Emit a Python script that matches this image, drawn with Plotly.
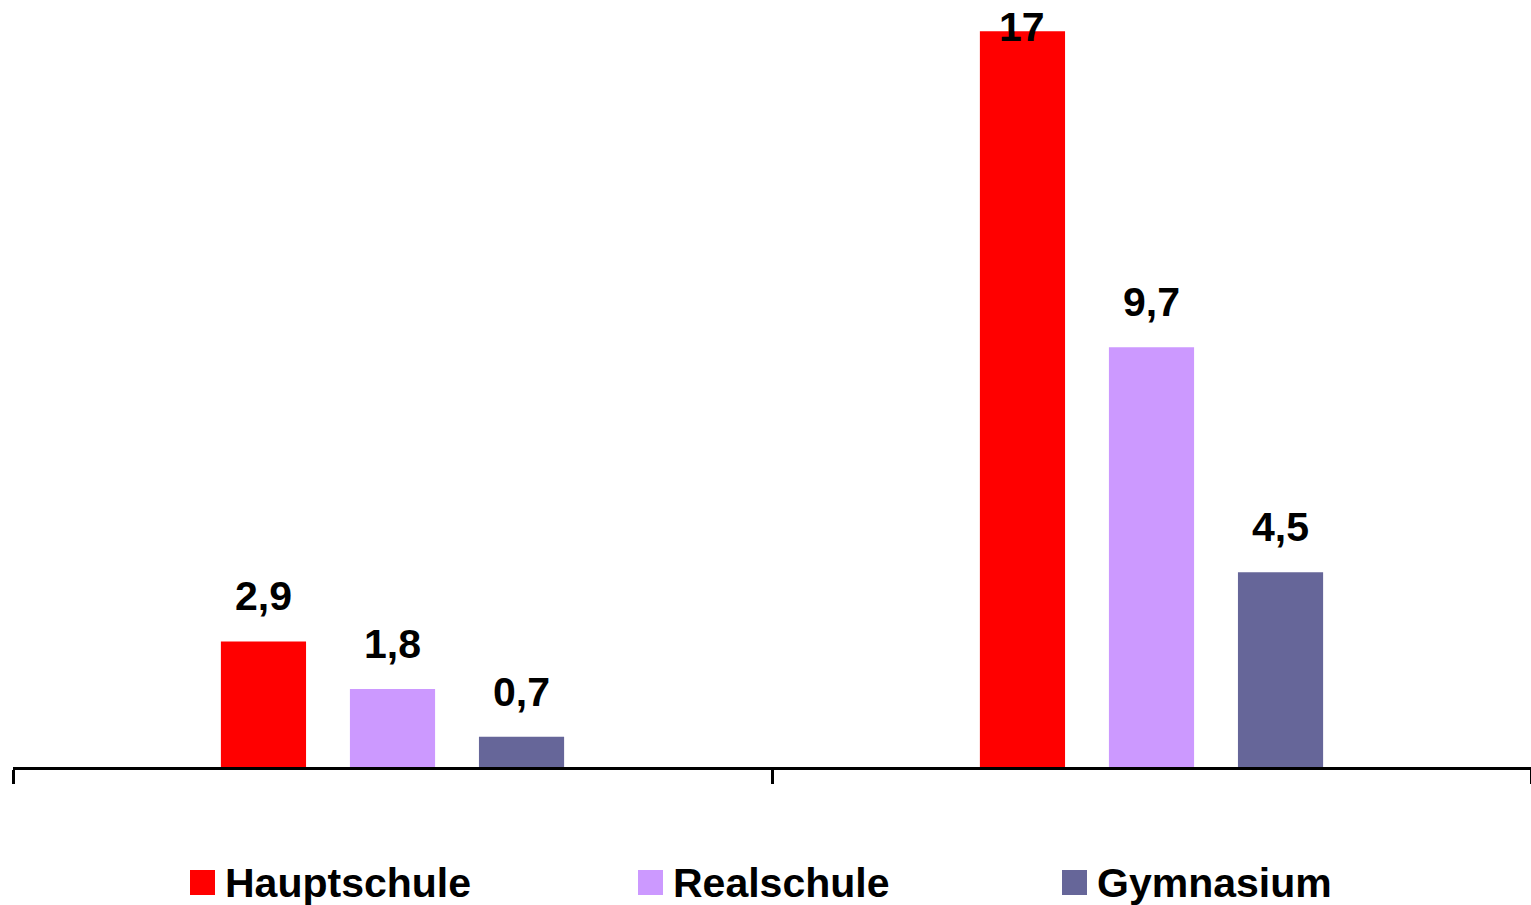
import plotly.graph_objects as go

# ---- data ----
categories = ["Gruppe 1", "Gruppe 2"]
series_names = ["Hauptschule", "Realschule", "Gymnasium"]
hauptschule = [2.9, 17]
realschule = [1.8, 9.7]
gymnasium = [0.7, 4.5]
value_labels = {
    "Hauptschule": ["2,9", "17"],
    "Realschule": ["1,8", "9,7"],
    "Gymnasium": ["0,7", "4,5"],
}
colors = ["#FF0000", "#CC99FF", "#666699"]

W, H = 1531, 905
ML, MR, MT, MB = 13, 0, 0, 138
PLOT_H = H - MT - MB
PLOT_W = W - ML - MR
YMAX = 17.72
FONT = "Liberation Sans, Arial, sans-serif"
FS = 41

values = [hauptschule, realschule, gymnasium]

fig = go.Figure()
for name, vals, col in zip(series_names, values, colors):
    fig.add_trace(go.Bar(
        x=categories, y=vals, name=name, marker=dict(color=col, line=dict(width=0)),
        showlegend=False, hoverinfo="skip",
    ))

# value labels as annotations above each bar (offset within group)
pxu = PLOT_H / YMAX
n = len(series_names)
bargap, bargroupgap = 0.49, 0.34
slot = (1 - bargap) / n
annotations = []
for si, (name, vals) in enumerate(zip(series_names, values)):
    for ci, v in enumerate(vals):
        xpos = ci - (1 - bargap) / 2 + slot * (si + 0.5)
        lbl = value_labels[name][ci]
        top_px = v * pxu + 29 + 30
        if top_px > PLOT_H - 10:
            annotations.append(dict(x=xpos, y=YMAX, xref="x", yref="y", text=lbl,
                                    showarrow=False, yanchor="top", xanchor="center",
                                    yshift=-2,
                                    font=dict(family=FONT, size=FS, color="black", weight="bold")))
        else:
            annotations.append(dict(x=xpos, y=v, xref="x", yref="y", text=lbl,
                                    showarrow=False, yanchor="bottom", xanchor="center",
                                    yshift=20,
                                    font=dict(family=FONT, size=FS, color="black", weight="bold")))

# custom legend (squares + text) below the plot
def px_x(px):
    return (px - ML) / PLOT_W

def px_y(py):
    return (MT + PLOT_H - py) / PLOT_H

legend_x = [190, 638, 1062]
shapes = []
for name, col, lx in zip(series_names, colors, legend_x):
    shapes.append(dict(type="rect", xref="paper", yref="paper",
                       x0=px_x(lx), x1=px_x(lx + 25), y0=px_y(895), y1=px_y(870),
                       fillcolor=col, line=dict(width=0)))
    annotations.append(dict(x=px_x(lx + 33), y=px_y(882.5), xref="paper", yref="paper",
                            text=name, showarrow=False, xanchor="left", yanchor="middle",
                            font=dict(family=FONT, size=FS, color="black", weight="bold")))

fig.update_layout(
    width=W, height=H,
    margin=dict(l=ML, r=MR, t=MT, b=MB, pad=0),
    paper_bgcolor="white", plot_bgcolor="white",
    barmode="group", bargap=bargap, bargroupgap=bargroupgap,
    showlegend=False,
    annotations=annotations, shapes=shapes,
    xaxis=dict(type="category", range=[-0.5, 1.5], showline=True, linecolor="black",
               linewidth=3, ticks="outside", tickson="boundaries", ticklen=14,
               tickwidth=3, tickcolor="black", showticklabels=False, showgrid=False,
               zeroline=False),
    yaxis=dict(range=[0, YMAX], visible=False, showgrid=False, zeroline=False),
)

fig.write_html("out.html")
